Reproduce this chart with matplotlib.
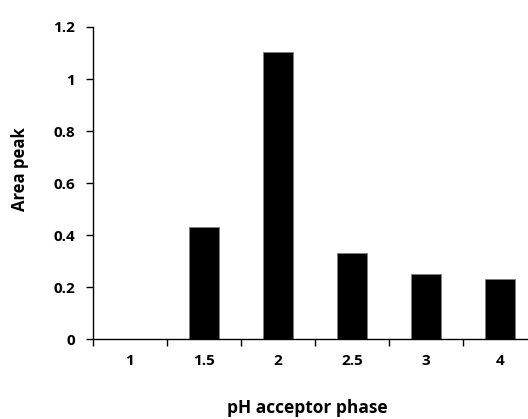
import numpy as np
import matplotlib.pyplot as plt

# Data
categories = ["1", "1.5", "2", "2.5", "3", "4"]
area_peak = [0.0, 0.43, 1.105, 0.33, 0.25, 0.23]

plt.rcParams['font.family'] = ['Open Sans', 'DejaVu Sans']
plt.rcParams['font.weight'] = 'bold'

fig = plt.figure(figsize=(5.28, 4.19), dpi=100)
# axes extends a little past the right edge, like the original
ax = fig.add_axes([93 / 528, 1 - 339 / 419, 444 / 528, 312 / 419])

x = np.arange(len(categories))
ax.bar(x, area_peak, width=0.4, color='black', edgecolor='#808080', linewidth=0.6)

ax.set_xlim(-0.5, len(categories) - 0.5)
ax.set_ylim(0, 1.2)
ax.set_yticks(np.arange(0, 1.21, 0.2))
ax.set_yticklabels(["0", "0.2", "0.4", "0.6", "0.8", "1", "1.2"])

# category labels centred, tick marks between categories
ax.set_xticks(np.arange(-0.5, len(categories), 1.0))
ax.set_xticklabels([])
ax.set_xticks(x, minor=True)
ax.set_xticklabels(categories, minor=True)
ax.tick_params(axis='x', which='minor', length=0, pad=11, labelsize=11)
ax.tick_params(axis='x', which='major', length=5, width=1, direction='out')
ax.tick_params(axis='y', length=5, width=1, direction='out', labelsize=11, pad=8)

for s in ['top', 'right']:
    ax.spines[s].set_visible(False)
for s in ['left', 'bottom']:
    ax.spines[s].set_linewidth(1)

ax.set_ylabel("Area peak", fontsize=12, fontweight='bold')
ax.yaxis.set_label_coords((29.5 - 93) / 444, (339 - 169.5) / 312)
ax.set_xlabel("pH acceptor phase", fontsize=12.5, fontweight='bold')
ax.xaxis.set_label_coords((307 - 93) / 444, -(399 - 339) / 312)

fig.savefig("out.png", dpi=100)
